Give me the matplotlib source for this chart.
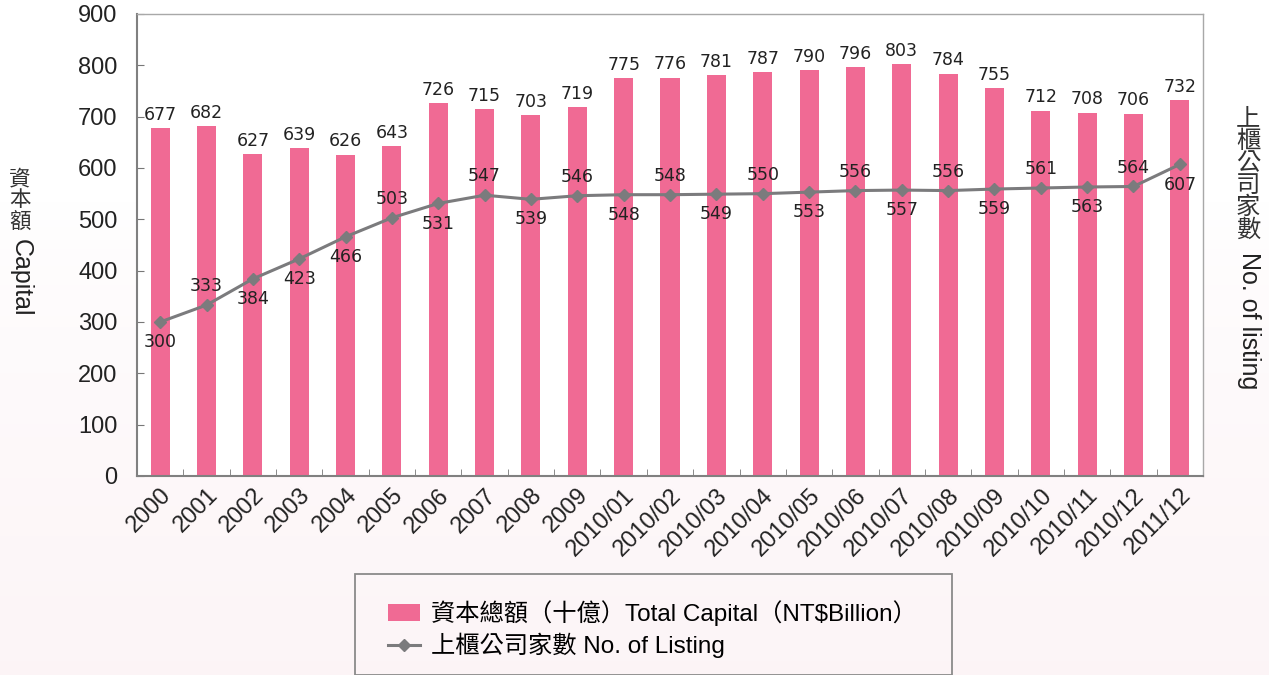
import numpy as np
import matplotlib
matplotlib.use('Agg')
import matplotlib.pyplot as plt
from matplotlib.lines import Line2D
from matplotlib.patches import Patch, Rectangle

plt.rcParams['font.family'] = ['Liberation Sans', 'Noto Sans CJK TC', 'DejaVu Sans']

periods = ['2000', '2001', '2002', '2003', '2004', '2005', '2006', '2007', '2008', '2009',
           '2010/01', '2010/02', '2010/03', '2010/04', '2010/05', '2010/06', '2010/07',
           '2010/08', '2010/09', '2010/10', '2010/11', '2010/12', '2011/12']
capital = [677, 682, 627, 639, 626, 643, 726, 715, 703, 719, 775, 776, 781, 787, 790, 796,
           803, 784, 755, 712, 708, 706, 732]
listings = [300, 333, 384, 423, 466, 503, 531, 547, 539, 546, 548, 548, 549, 550, 553, 556,
            557, 556, 559, 561, 563, 564, 607]
# where the listing labels sit: 1 above the point, -1 below
label_side = [-1, 1, -1, -1, -1, 1, -1, 1, -1, 1, -1, 1, -1, 1, -1, 1, -1, 1, -1, 1, -1, 1, -1]

W, H = 1269, 675
fig = plt.figure(figsize=(W / 100, H / 100), dpi=100)

# soft pink gradient background, white at the top
bg = fig.add_axes([0, 0, 1, 1], zorder=-10)
t = np.linspace(0, 1, 256)
ramp = np.clip((t - 0.3) / 0.7, 0, 1) ** 0.7
top = np.array([1.0, 1.0, 1.0])
bot = np.array([0.99, 0.96, 0.968])
img = top + (bot - top) * ramp[:, None, None]
bg.imshow(img, aspect='auto', extent=[0, 1, 0, 1], origin='upper')
bg.axis('off')

ax = fig.add_axes([137 / W, 1 - 476 / H, (1203 - 137) / W, (476 - 14) / H])
ax.set_facecolor('white')

x = np.arange(len(periods))
bar_color = '#f06a94'
line_color = '#7b7b7d'
ax.bar(x, capital, width=0.41, color=bar_color, zorder=2)
ax.plot(x, listings, color=line_color, lw=2.2, marker='D', ms=6.5, zorder=3)

lab_kw = dict(textcoords='offset points', ha='center', fontsize=12.5,
              color='#222222', family='DejaVu Sans')
for i, v in enumerate(capital):
    ax.annotate(str(v), (i, v), xytext=(0, 3), va='bottom', **lab_kw)
for i, v in enumerate(listings):
    if label_side[i] > 0:
        ax.annotate(str(v), (i, v), xytext=(0, 7), va='bottom', **lab_kw)
    else:
        ax.annotate(str(v), (i, v), xytext=(0, -8), va='top', **lab_kw)

ax.set_xlim(-0.5, len(periods) - 0.5)
ax.set_ylim(0, 900)
ax.set_yticks(range(0, 901, 100))
ax.set_xticks(x)
ax.set_xticklabels(periods, rotation=45, ha='right', rotation_mode='anchor')
ax.set_xticks(np.arange(0.5, len(periods) - 1, 1), minor=True)
ax.tick_params(axis='x', which='major', length=0, pad=6, labelsize=17, labelcolor='#222222')
ax.tick_params(axis='x', which='minor', length=5, direction='in', color='#777777')
ax.tick_params(axis='y', length=5, direction='in', color='#777777', labelsize=17,
               labelcolor='#222222', pad=14)

for s in ['left', 'bottom']:
    ax.spines[s].set_color('#808080')
    ax.spines[s].set_linewidth(1.5)
for s in ['top', 'right']:
    ax.spines[s].set_color('#a8a8a8')
    ax.spines[s].set_linewidth(1.0)

# vertical axis titles
fig.text(20 / W, 1 - 201 / H, '資\n本\n額', ha='center', va='center', fontsize=15.5,
         linespacing=1.0, color='#333333')
fig.text(21 / W, 1 - 278 / H, 'Capital', ha='center', va='center', fontsize=18,
         rotation=-90, color='#222222')
fig.text(1248 / W, 1 - 175 / H, '上\n櫃\n公\n司\n家\n數', ha='center', va='center',
         fontsize=17.5, linespacing=1.0, color='#333333')
fig.text(1249 / W, 1 - 321 / H, 'No. of listing', ha='center', va='center', fontsize=18,
         rotation=-90, color='#222222')

# legend box
fig.patches.append(Rectangle((355 / W, 0), (952 - 355) / W, (675 - 581) / H + 0.01,
                             transform=fig.transFigure, facecolor='none',
                             edgecolor='#8a8a8a', lw=1.3, clip_on=False))
handles = [Patch(facecolor=bar_color, edgecolor='none'),
           Line2D([0], [0], color=line_color, lw=2.2, marker='D', ms=6.5)]
labels = ['資本總額（十億）Total Capital（NT$Billion）', '上櫃公司家數 No. of Listing']
fig.legend(handles, labels, loc='upper left', bbox_to_anchor=(388 / W, 1 - 600 / H),
           frameon=False, fontsize=17.5, handlelength=1.3, handletextpad=0.45,
           labelspacing=0.3, borderaxespad=0, borderpad=0)

fig.savefig('out.png', dpi=100)
